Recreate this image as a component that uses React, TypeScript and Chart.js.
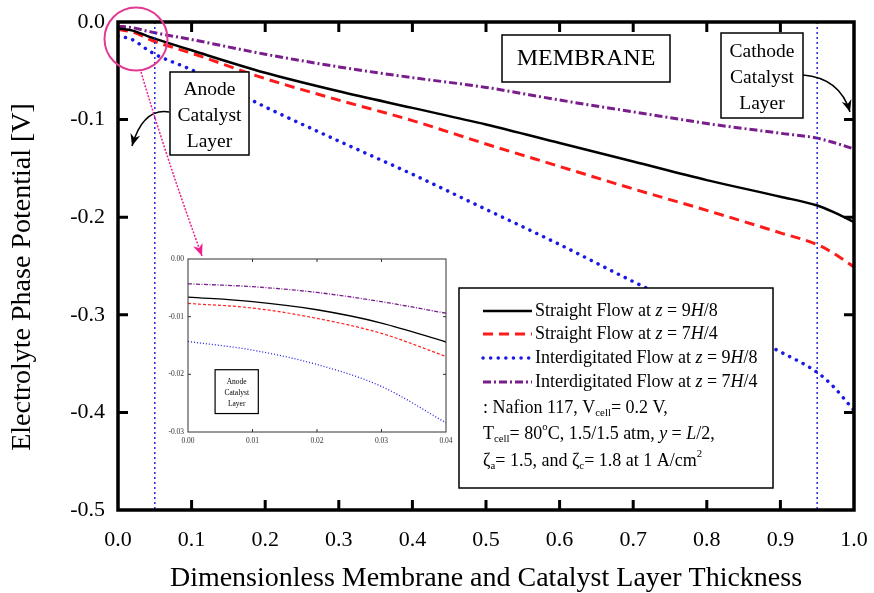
import React, { useEffect, useRef } from "react";
import { Chart, registerables } from "chart.js";

Chart.register(...registerables);

// ---------- data ----------
const thickness = [0, 0.02, 0.04, 0.05, 0.1, 0.2, 0.3, 0.4, 0.5, 0.6, 0.7, 0.8, 0.9, 0.95, 0.97, 1.0];
const straight98 = [-0.0066, -0.0088, -0.0144, -0.017, -0.029, -0.052, -0.071, -0.088, -0.105, -0.124, -0.143, -0.162, -0.179, -0.188, -0.194, -0.205];
const straight74 = [-0.0077, -0.0103, -0.0169, -0.02, -0.032, -0.058, -0.08, -0.101, -0.125, -0.148, -0.171, -0.193, -0.216, -0.228, -0.236, -0.251];
const inter98 = [-0.0143, -0.0183, -0.0284, -0.033, -0.049, -0.087, -0.122, -0.156, -0.192, -0.228, -0.266, -0.302, -0.338, -0.359, -0.372, -0.398];
const inter74 = [-0.0043, -0.0058, -0.0094, -0.011, -0.018, -0.033, -0.046, -0.057, -0.067, -0.08, -0.092, -0.104, -0.114, -0.119, -0.123, -0.13];
const layerBoundaries = [0.05, 0.95];

const insetThickness = [0, 0.01, 0.02, 0.03, 0.04];
const insetStraight98 = [-0.0066, -0.0074, -0.0088, -0.0111, -0.0144];
const insetStraight74 = [-0.0077, -0.0085, -0.0103, -0.0129, -0.0169];
const insetInter98 = [-0.0143, -0.0158, -0.0183, -0.0221, -0.0284];
const insetInter74 = [-0.0043, -0.0048, -0.0058, -0.0074, -0.0094];

const seriesNames = [
  "Straight Flow at z = 9H/8",
  "Straight Flow at z = 7H/4",
  "Interdigitated Flow at z = 9H/8",
  "Interdigitated Flow at z = 7H/4",
];
const xTitle = "Dimensionless Membrane and Catalyst Layer Thickness";
const yTitle = "Electrolyte Phase Potential [V]";
const membraneLabel = ["MEMBRANE"];
const anodeLabel = ["Anode", "Catalyst", "Layer"];
const cathodeLabel = ["Cathode", "Catalyst", "Layer"];

type Seg = { t: string; s?: "i" | "sub" | "sup" };
const conditionRows: Seg[][] = [
  [{ t: ": Nafion 117, V" }, { t: "cell", s: "sub" }, { t: "= 0.2 V," }],
  [{ t: "T" }, { t: "cell", s: "sub" }, { t: "= 80" }, { t: "o", s: "sup" }, { t: "C, 1.5/1.5 atm, " }, { t: "y", s: "i" }, { t: " = " }, { t: "L", s: "i" }, { t: "/2," }],
  [{ t: "\u03B6" }, { t: "a", s: "sub" }, { t: "= 1.5, and \u03B6" }, { t: "c", s: "sub" }, { t: "= 1.8 at 1 A/cm" }, { t: "2", s: "sup" }],
];

const FONT = '"Liberation Serif", "Times New Roman", serif';

// ---------- helpers ----------
function toSegs(name: string): Seg[] {
  const segs: Seg[] = [];
  let buf = "";
  for (const ch of name) {
    if (ch === "z" || ch === "H") {
      if (buf) segs.push({ t: buf });
      buf = "";
      segs.push({ t: ch, s: "i" });
    } else buf += ch;
  }
  if (buf) segs.push({ t: buf });
  return segs;
}

function drawRich(ctx: CanvasRenderingContext2D, segs: Seg[], x: number, y: number, size: number) {
  ctx.textBaseline = "middle";
  ctx.textAlign = "left";
  ctx.fillStyle = "#000";
  let cx = x;
  for (const seg of segs) {
    const small = seg.s === "sub" || seg.s === "sup";
    const sz = small ? size * 0.6 : size;
    ctx.font = `${seg.s === "i" ? "italic " : ""}${sz}px ${FONT}`;
    const dy = seg.s === "sub" ? size * 0.3 : seg.s === "sup" ? -size * 0.38 : 0;
    ctx.fillText(seg.t, cx, y + dy);
    cx += ctx.measureText(seg.t).width;
  }
}

function labelBox(ctx: CanvasRenderingContext2D, x1: number, y1: number, x2: number, y2: number, lines: string[], ys: number[], size: number, lw: number) {
  ctx.save();
  ctx.fillStyle = "#fff";
  ctx.fillRect(x1, y1, x2 - x1, y2 - y1);
  ctx.strokeStyle = "#000";
  ctx.lineWidth = lw;
  ctx.setLineDash([]);
  ctx.strokeRect(x1, y1, x2 - x1, y2 - y1);
  ctx.fillStyle = "#000";
  ctx.font = `${size}px ${FONT}`;
  ctx.textAlign = "center";
  ctx.textBaseline = "middle";
  lines.forEach((l, i) => ctx.fillText(l, (x1 + x2) / 2, ys[i]));
  ctx.restore();
}

function arrowHead(ctx: CanvasRenderingContext2D, tx: number, ty: number, fx: number, fy: number, len: number, half: number, color: string) {
  const ang = Math.atan2(ty - fy, tx - fx);
  ctx.save();
  ctx.setLineDash([]);
  ctx.fillStyle = color;
  ctx.beginPath();
  ctx.moveTo(tx, ty);
  ctx.lineTo(tx - len * Math.cos(ang) + half * Math.sin(ang), ty - len * Math.sin(ang) - half * Math.cos(ang));
  ctx.lineTo(tx - len * 0.7 * Math.cos(ang), ty - len * 0.7 * Math.sin(ang));
  ctx.lineTo(tx - len * Math.cos(ang) - half * Math.sin(ang), ty - len * Math.sin(ang) + half * Math.cos(ang));
  ctx.closePath();
  ctx.fill();
  ctx.restore();
}

function curvedArrow(ctx: CanvasRenderingContext2D, sx: number, sy: number, cx: number, cy: number, ex: number, ey: number, color: string, lw: number, dash: number[]) {
  ctx.save();
  ctx.strokeStyle = color;
  ctx.lineWidth = lw;
  ctx.setLineDash(dash);
  ctx.beginPath();
  ctx.moveTo(sx, sy);
  ctx.quadraticCurveTo(cx, cy, ex, ey);
  ctx.stroke();
  ctx.restore();
  arrowHead(ctx, ex, ey, cx, cy, 12, 5, color);
}

function frameWithTicks(chart: any, lw: number, tickLen: number, tickW: number, color: string) {
  const { ctx, chartArea: a, scales } = chart;
  ctx.save();
  ctx.setLineDash([]);
  ctx.strokeStyle = color;
  ctx.lineWidth = tickW;
  ctx.lineCap = "butt";
  const xs = scales.x, ys = scales.y;
  xs.ticks.forEach((t: any) => {
    const px = xs.getPixelForValue(t.value);
    if (px <= a.left + 1 || px >= a.right - 1) return;
    ctx.beginPath();
    ctx.moveTo(px, a.bottom);
    ctx.lineTo(px, a.bottom - tickLen);
    ctx.moveTo(px, a.top);
    ctx.lineTo(px, a.top + tickLen);
    ctx.stroke();
  });
  ys.ticks.forEach((t: any) => {
    const py = ys.getPixelForValue(t.value);
    if (py <= a.top + 1 || py >= a.bottom - 1) return;
    ctx.beginPath();
    ctx.moveTo(a.left, py);
    ctx.lineTo(a.left + tickLen, py);
    ctx.moveTo(a.right, py);
    ctx.lineTo(a.right - tickLen, py);
    ctx.stroke();
  });
  ctx.lineWidth = lw;
  ctx.strokeRect(a.left, a.top, a.right - a.left, a.bottom - a.top);
  ctx.restore();
}

const whiteBg = {
  id: "whiteBg",
  beforeDraw(chart: any) {
    const { ctx, width, height } = chart;
    ctx.save();
    ctx.fillStyle = "#fff";
    ctx.fillRect(0, 0, width, height);
    ctx.restore();
  },
};

const mainDecor = {
  id: "mainDecor",
  afterDraw(chart: any) {
    const { ctx } = chart;
    // annotation boxes
    labelBox(ctx, 502, 35, 670, 82, membraneLabel, [59], 24, 1.5);
    labelBox(ctx, 170, 72, 249, 155, anodeLabel, [90, 116, 142], 19.5, 1.5);
    labelBox(ctx, 721, 33, 803, 118, cathodeLabel, [52, 78, 104], 19.5, 1.5);
    curvedArrow(ctx, 169, 112, 143, 108, 132, 146, "#000", 1.5, []);
    curvedArrow(ctx, 803, 75, 840, 78, 850, 112, "#000", 1.5, []);

    // legend
    const lx1 = 459, ly1 = 288, lx2 = 773, ly2 = 488;
    ctx.save();
    ctx.fillStyle = "#fff";
    ctx.fillRect(lx1, ly1, lx2 - lx1, ly2 - ly1);
    ctx.strokeStyle = "#000";
    ctx.lineWidth = 1.5;
    ctx.setLineDash([]);
    ctx.strokeRect(lx1, ly1, lx2 - lx1, ly2 - ly1);
    const rowY = [311, 334, 358, 382, 408, 434, 461];
    const entries = chart.data.datasets.filter((d: any) => d.inLegend);
    entries.forEach((d: any, i: number) => {
      const y = rowY[i];
      ctx.save();
      ctx.strokeStyle = d.borderColor;
      ctx.lineWidth = d.borderWidth;
      ctx.setLineDash(d.borderDash || []);
      ctx.lineCap = d.borderCapStyle || "butt";
      ctx.beginPath();
      ctx.moveTo(483, y);
      ctx.lineTo(532, y);
      ctx.stroke();
      ctx.restore();
      drawRich(ctx, toSegs(d.label), 535, y, 18);
    });
    conditionRows.forEach((segs, i) => drawRich(ctx, segs, 483, rowY[4 + i], 18));
    ctx.restore();

    // y-axis title
    ctx.save();
    ctx.translate(23, 277);
    ctx.rotate(-Math.PI / 2);
    ctx.font = `28px ${FONT}`;
    ctx.fillStyle = "#000";
    ctx.textAlign = "center";
    ctx.textBaseline = "middle";
    ctx.fillText(yTitle, 0, 0);
    ctx.restore();

    frameWithTicks(chart, 3.5, 10, 3, "#000");

    // magnifier circle + arrow
    ctx.save();
    ctx.strokeStyle = "#e23a92";
    ctx.lineWidth = 2;
    ctx.setLineDash([]);
    ctx.beginPath();
    ctx.arc(136, 39, 31.5, 0, Math.PI * 2);
    ctx.stroke();
    ctx.restore();
    curvedArrow(ctx, 141, 72, 168, 163, 202, 256, "#ec1f8e", 1.5, [2, 1.5]);
  },
};

const insetDecor = {
  id: "insetDecor",
  afterDraw(chart: any) {
    const { ctx, scales } = chart;
    frameWithTicks(chart, 1, 3, 1, "#333");
    const x1 = scales.x.getPixelForValue(0.0042);
    const x2 = scales.x.getPixelForValue(0.0109);
    const y1 = scales.y.getPixelForValue(-0.0192);
    const y2 = scales.y.getPixelForValue(-0.0268);
    labelBox(ctx, x1, y1, x2, y2, anodeLabel, [y1 + 12, y1 + 23, y1 + 34], 7.5, 1.2);
  },
};

function mainSeries(label: string, values: number[], style: any) {
  return {
    label,
    inLegend: true,
    data: thickness.map((x, i) => ({ x, y: values[i] })),
    pointRadius: 0,
    fill: false,
    cubicInterpolationMode: "monotone",
    ...style,
  };
}

function insetSeries(values: number[], style: any) {
  return {
    data: insetThickness.map((x, i) => ({ x, y: values[i] })),
    pointRadius: 0,
    fill: false,
    cubicInterpolationMode: "monotone",
    ...style,
  };
}

const styles = [
  { borderColor: "#000000", borderWidth: 2.5, borderDash: [] },
  { borderColor: "#ff1a1a", borderWidth: 3, borderDash: [10, 6] },
  { borderColor: "#1a1ae6", borderWidth: 3.5, borderDash: [0.1, 7.5], borderCapStyle: "round" },
  { borderColor: "#7a1d8c", borderWidth: 3, borderDash: [8, 3, 2, 3] },
];
const insetStyles = [
  { borderColor: "#000000", borderWidth: 1.3, borderDash: [] },
  { borderColor: "#ff2020", borderWidth: 1.2, borderDash: [3, 2] },
  { borderColor: "#2020e6", borderWidth: 1.3, borderDash: [1, 2] },
  { borderColor: "#7a1d8c", borderWidth: 1.3, borderDash: [4, 1.5, 1, 1.5] },
];

// fix the plot box: no extra padding from overflowing tick labels
const fitX = (h: number) => (s: any) => {
  s.height = h;
  s.paddingLeft = 0;
  s.paddingRight = 0;
};
const fitY = (w: number) => (s: any) => {
  s.width = w;
  s.paddingTop = 0;
  s.paddingBottom = 0;
};

export default function App() {
  const mainRef = useRef<HTMLCanvasElement>(null);
  const insetRef = useRef<HTMLCanvasElement>(null);

  useEffect(() => {
    document.body.style.margin = "0";
    const tickFont = { family: FONT, size: 22 };
    const main = new Chart(mainRef.current as HTMLCanvasElement, {
      type: "line",
      data: {
        datasets: [
          ...layerBoundaries.map((b) => ({
            label: "",
            inLegend: false,
            data: [{ x: b, y: 0 }, { x: b, y: -0.5 }],
            borderColor: "#2424e0",
            borderWidth: 1.5,
            borderDash: [2, 3],
            pointRadius: 0,
          })),
          mainSeries(seriesNames[0], straight98, styles[0]),
          mainSeries(seriesNames[1], straight74, styles[1]),
          mainSeries(seriesNames[2], inter98, styles[2]),
          mainSeries(seriesNames[3], inter74, styles[3]),
        ] as any,
      },
      options: {
        animation: false,
        responsive: false,
        maintainAspectRatio: false,
        devicePixelRatio: 1,
        layout: { padding: { top: 22, right: 20, left: 0, bottom: 0 } },
        plugins: { legend: { display: false }, tooltip: { enabled: false } },
        scales: {
          x: {
            type: "linear",
            min: 0,
            max: 1,
            grid: { display: false, drawTicks: false },
            border: { display: false },
            ticks: { stepSize: 0.1, font: tickFont, color: "#000", padding: 17, maxRotation: 0, callback: (v: any) => Number(v).toFixed(1) },
            title: { display: true, text: xTitle, font: { family: FONT, size: 28 }, color: "#000", padding: { top: 0, bottom: -2 } },
            afterFit: fitX(83),
          },
          y: {
            type: "linear",
            min: -0.5,
            max: 0,
            grid: { display: false, drawTicks: false },
            border: { display: false },
            ticks: { stepSize: 0.1, font: tickFont, color: "#000", padding: 13, callback: (v: any) => Number(v).toFixed(1) },
            afterFit: fitY(118),
          },
        },
      } as any,
      plugins: [whiteBg, mainDecor],
    });

    const insetTickFont = { family: FONT, size: 7.5 };
    const inset = new Chart(insetRef.current as HTMLCanvasElement, {
      type: "line",
      data: {
        datasets: [
          insetSeries(insetStraight98, insetStyles[0]),
          insetSeries(insetStraight74, insetStyles[1]),
          insetSeries(insetInter98, insetStyles[2]),
          insetSeries(insetInter74, insetStyles[3]),
        ] as any,
      },
      options: {
        animation: false,
        responsive: false,
        maintainAspectRatio: false,
        devicePixelRatio: 1,
        layout: { padding: { top: 14, right: 12, left: 0, bottom: 0 } },
        plugins: { legend: { display: false }, tooltip: { enabled: false } },
        scales: {
          x: {
            type: "linear",
            min: 0,
            max: 0.04,
            grid: { display: false, drawTicks: false },
            border: { display: false },
            ticks: { stepSize: 0.01, font: insetTickFont, color: "#333", padding: 5, maxRotation: 0, callback: (v: any) => Number(v).toFixed(2) },
            afterFit: fitX(23),
          },
          y: {
            type: "linear",
            min: -0.03,
            max: 0,
            grid: { display: false, drawTicks: false },
            border: { display: false },
            ticks: { stepSize: 0.01, font: insetTickFont, color: "#333", padding: 4, callback: (v: any) => Number(v).toFixed(2) },
            afterFit: fitY(28),
          },
        },
      } as any,
      plugins: [insetDecor],
    });

    return () => {
      main.destroy();
      inset.destroy();
    };
  }, []);

  return (
    <div style={{ position: "relative", width: 874, height: 593, background: "#fff", overflow: "hidden" }}>
      <canvas ref={mainRef} width={874} height={593} style={{ position: "absolute", left: 0, top: 0, width: 874, height: 593 }} />
      <canvas ref={insetRef} width={298} height={210} style={{ position: "absolute", left: 160, top: 245, width: 298, height: 210 }} />
    </div>
  );
}
